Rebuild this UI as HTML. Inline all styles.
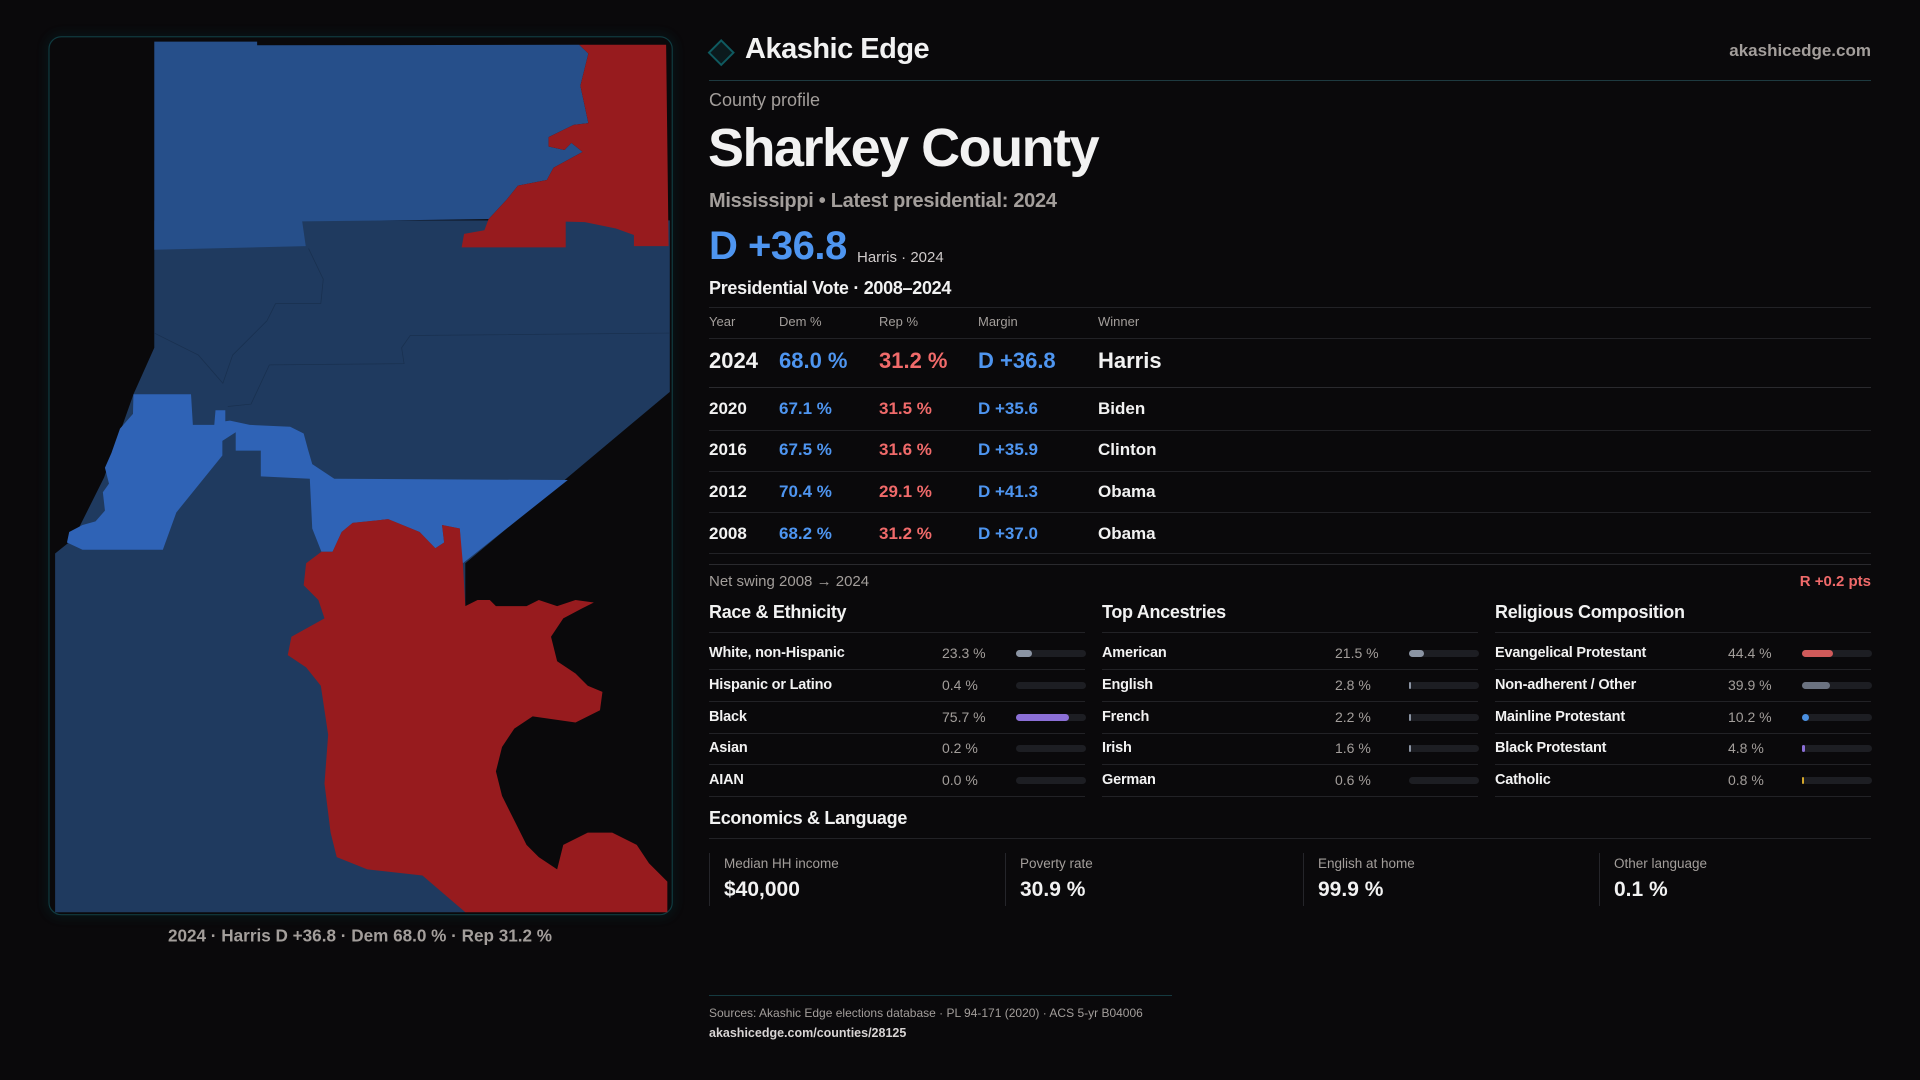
<!DOCTYPE html>
<html><head><meta charset="utf-8"><style>
*{margin:0;padding:0;box-sizing:border-box}
body{width:1920px;height:1080px;background:#0a090b;position:relative;overflow:hidden;font-family:"Liberation Sans",sans-serif;color:#f2f2f2}
.t{position:absolute;line-height:1;white-space:nowrap}
.g{color:#a39e9b}.b{color:#4e95f0}.r{color:#f06a6a}
.hl{position:absolute;height:1px;background:#222226}
.bar{position:absolute;height:7px;border-radius:4px;background:#1d1e23;width:70px}
.bar i{position:absolute;left:0;top:0;height:7px;border-radius:4px}
.card{position:absolute;top:853px;height:53px;border-left:1px solid #25252a}
</style></head><body>
<svg style="position:absolute;left:0;top:0" width="1920" height="1080" viewBox="0 0 1568 882">
<defs><filter id="gl" x="-10%" y="-10%" width="120%" height="120%"><feGaussianBlur stdDeviation="4"/></filter></defs>
<rect x="40" y="30" width="509" height="717" rx="10" fill="none" stroke="#0f3b40" stroke-width="4" opacity="0.35" filter="url(#gl)"/>
<rect x="40" y="30" width="509" height="717" rx="10" fill="#0a090b" stroke="#103a3f" stroke-width="1"/>
<polygon fill="#1f3a5f" points="126,180 547,180 547,320 380,460 380,745 45,745 45,452 60,440 85,390 109,322 126,284"/>
<polygon fill="#264f8a" points="126,34 210,34 210,37 473,36.5 480.5,43.7 474,70 480.5,100.6 468.5,102 448,112 448,119.6 461,122.5 466.6,116.7 475.8,124 452,137 446.6,147 423,151.6 413.8,163 399,179 246.8,180.8 249.7,201 126,204"/>
<polygon fill="#971b1e" points="473,36.5 480.5,43.7 474,70 480.5,100.6 468.5,102 448,112 448,119.6 461,122.5 466.6,116.7 475.8,124 452,137 446.6,147 423,151.6 413.8,163 399,179 395.6,188 379,191 377,202 462,202 462,181 477.6,181.4 503,186.6 517.7,191.9 517.7,201 546,201 544,36.5"/>
<polygon fill="#2f63b6" points="109,322 156,322 157.5,347 175,347 176,335 184,335 184,344 187.8,343.5 204,347 237,348.5 248,354 251.5,367 255,379 273,391 463.7,392 378,460 377,457 375.5,431.6 361,428.7 362.7,443 355.5,447.7 342.7,434.5 317,424 288,427 279,434.5 271.6,450.6 262.5,450.6 255,431.6 253,391 213,389 213,368 192.5,368 192.5,353 181.6,360 181.6,372 144,418.5 133,449 67.4,449 54.7,443 56.5,434.5 67.4,428.7 78,425.8 85.7,417 84,402 89,395 85.7,382 91,370 98,350 108.6,338"/>
<polygon fill="#971b1e" points="262.5,450.6 271.6,450.6 279,434.5 288,427 317,424 342.7,434.5 355.5,447.7 362.7,443 361,428.7 375.5,431.6 378,460 380,495 390,490 400,490 405,495 430,495 440,490 455,495 470,490 485,492 475,497 460,505 450,520 455,540 470,550 480,560 492,565 490,580 470,590 435,585 420,595 410,610 405,630 410,650 420,670 430,690 440,700 455,710 460,690 480,680 500,680 520,690 530,705 545,720 545,745 380,745 345,715 300,710 275,700 270,680 265,640 268,600 262,560 250,545 235,535 238,520 265,505 260,490 248,478 250,460"/>
<g fill="none" stroke="#19304f" stroke-width="0.6">
<path d="M126,272 L162,290 L182,313 L190,290 L198,282 L218,262 L225,248 L262,248 L264,228 L252,203"/>
<path d="M220,298 L330,297 L328,284 L335,274 L547,272"/>
<path d="M220,298 L205,330 L186,332"/>
</g>
<text x="294" y="769" fill="#a39e9b" font-family="Liberation Sans" font-size="14" font-weight="bold" text-anchor="middle">2024 · Harris D +36.8 · Dem 68.0 % · Rep 31.2 %</text>
<polygon points="589,33 599,43 589,53 579,43" fill="#0b1a1d" stroke="#0f5a60" stroke-width="1.6"/>
</svg>

<div class="t" style="left:745px;top:35px;font-size:29px;font-weight:bold;letter-spacing:-0.5px">Akashic Edge</div>
<div class="t g" style="right:49px;top:42px;font-size:17px;font-weight:bold">akashicedge.com</div>
<div class="hl" style="left:709px;width:1162px;top:80px;background:#1e3a40"></div>
<div class="t g" style="left:709px;top:91px;font-size:18px">County profile</div>
<div class="t" style="left:708px;top:121px;font-size:54px;font-weight:bold;letter-spacing:-1.5px">Sharkey County</div>
<div class="t g" style="left:709px;top:191px;font-size:20px;font-weight:bold;letter-spacing:-0.3px">Mississippi • Latest presidential: 2024</div>
<div class="t b" style="left:709px;top:226px;font-size:40px;font-weight:bold;letter-spacing:-0.5px">D +36.8</div>
<div class="t" style="left:857px;top:250px;font-size:15px;color:#cfcaca">Harris · 2024</div>
<div class="t" style="left:709px;top:279px;font-size:18px;font-weight:bold;letter-spacing:-0.3px">Presidential Vote · 2008–2024</div>
<div class="hl" style="left:709px;width:1162px;top:307px"></div>
<div class="t g" style="left:709px;top:315px;font-size:13px">Year</div>
<div class="t g" style="left:779px;top:315px;font-size:13px">Dem %</div>
<div class="t g" style="left:879px;top:315px;font-size:13px">Rep %</div>
<div class="t g" style="left:978px;top:315px;font-size:13px">Margin</div>
<div class="t g" style="left:1098px;top:315px;font-size:13px">Winner</div>
<div class="hl" style="left:709px;width:1162px;top:338px"></div>
<div class="t" style="left:709px;top:350px;font-size:22px;font-weight:bold">2024</div>
<div class="t b" style="left:779px;top:350px;font-size:22px;font-weight:bold">68.0 %</div>
<div class="t r" style="left:879px;top:350px;font-size:22px;font-weight:bold">31.2 %</div>
<div class="t b" style="left:978px;top:350px;font-size:22px;font-weight:bold">D +36.8</div>
<div class="t" style="left:1098px;top:350px;font-size:22px;font-weight:bold">Harris</div>
<div class="hl" style="left:709px;width:1162px;top:387px;background:#2a2a2e"></div>
<div class="t" style="left:709px;top:400px;font-size:17px;font-weight:bold">2020</div><div class="t b" style="left:779px;top:400px;font-size:17px;font-weight:bold">67.1 %</div><div class="t r" style="left:879px;top:400px;font-size:17px;font-weight:bold">31.5 %</div><div class="t b" style="left:978px;top:400px;font-size:17px;font-weight:bold">D +35.6</div><div class="t" style="left:1098px;top:400px;font-size:17px;font-weight:bold">Biden</div>
<div class="hl" style="left:709px;width:1162px;top:430px"></div>
<div class="t" style="left:709px;top:441px;font-size:17px;font-weight:bold">2016</div><div class="t b" style="left:779px;top:441px;font-size:17px;font-weight:bold">67.5 %</div><div class="t r" style="left:879px;top:441px;font-size:17px;font-weight:bold">31.6 %</div><div class="t b" style="left:978px;top:441px;font-size:17px;font-weight:bold">D +35.9</div><div class="t" style="left:1098px;top:441px;font-size:17px;font-weight:bold">Clinton</div>
<div class="hl" style="left:709px;width:1162px;top:471px"></div>
<div class="t" style="left:709px;top:483px;font-size:17px;font-weight:bold">2012</div><div class="t b" style="left:779px;top:483px;font-size:17px;font-weight:bold">70.4 %</div><div class="t r" style="left:879px;top:483px;font-size:17px;font-weight:bold">29.1 %</div><div class="t b" style="left:978px;top:483px;font-size:17px;font-weight:bold">D +41.3</div><div class="t" style="left:1098px;top:483px;font-size:17px;font-weight:bold">Obama</div>
<div class="hl" style="left:709px;width:1162px;top:512px"></div>
<div class="t" style="left:709px;top:525px;font-size:17px;font-weight:bold">2008</div><div class="t b" style="left:779px;top:525px;font-size:17px;font-weight:bold">68.2 %</div><div class="t r" style="left:879px;top:525px;font-size:17px;font-weight:bold">31.2 %</div><div class="t b" style="left:978px;top:525px;font-size:17px;font-weight:bold">D +37.0</div><div class="t" style="left:1098px;top:525px;font-size:17px;font-weight:bold">Obama</div>
<div class="hl" style="left:709px;width:1162px;top:553px"></div>
<div class="hl" style="left:709px;width:1162px;top:564px;background:#2a2a2e"></div>
<div class="t g" style="left:709px;top:574px;font-size:15px">Net swing 2008 → 2024</div>
<div class="t r" style="right:49px;top:574px;font-size:15px;font-weight:bold">R +0.2 pts</div>

<div class="t" style="left:709px;top:603px;font-size:18px;font-weight:bold;letter-spacing:-0.3px">Race &amp; Ethnicity</div>
<div class="t" style="left:1102px;top:603px;font-size:18px;font-weight:bold;letter-spacing:-0.3px">Top Ancestries</div>
<div class="t" style="left:1495px;top:603px;font-size:18px;font-weight:bold;letter-spacing:-0.3px">Religious Composition</div>

<div id="cols"></div>
<script>
var cols=[[709,[["White, non-Hispanic","23.3 %",23.3,"#8b94a3"],["Hispanic or Latino","0.4 %",0,"#8b94a3"],["Black","75.7 %",75.7,"#8b6fd6"],["Asian","0.2 %",0,"#8b94a3"],["AIAN","0.0 %",0,"#8b94a3"]]],
[1102,[["American","21.5 %",21.5,"#8b94a3"],["English","2.8 %",2.8,"#8b94a3"],["French","2.2 %",2.2,"#8b94a3"],["Irish","1.6 %",1.6,"#8b94a3"],["German","0.6 %",0,"#8b94a3"]]],
[1495,[["Evangelical Protestant","44.4 %",44.4,"#d05a5a"],["Non-adherent / Other","39.9 %",39.9,"#6b7280"],["Mainline Protestant","10.2 %",10.2,"#4a8fe0"],["Black Protestant","4.8 %",4.8,"#8b6fd6"],["Catholic","0.8 %",0.8,"#d4a72c"]]]];
var h="";
cols.forEach(function(c){var x=c[0];h+='<div class="hl" style="left:'+x+'px;width:376px;top:632px"></div>';
c[1].forEach(function(r,i){var y=653+i*31.8;
h+='<div class="t" style="left:'+x+'px;top:'+(y-7)+'px;font-size:14.5px;font-weight:bold;letter-spacing:-0.2px">'+r[0]+'</div>';
h+='<div class="t g" style="left:'+(x+233)+'px;top:'+(y-7)+'px;font-size:14px">'+r[1]+'</div>';
var w=r[2]>0?Math.max(2,r[2]/100*70):0;
h+='<div class="bar" style="left:'+(x+307)+'px;top:'+(y-3)+'px">'+(w?'<i style="width:'+w+'px;background:'+r[3]+'"></i>':'')+'</div>';
h+='<div class="hl" style="left:'+x+'px;width:376px;top:'+(y+16)+'px"></div>';});});
document.getElementById("cols").innerHTML=h;
</script>

<div class="t" style="left:709px;top:809px;font-size:18px;font-weight:bold;letter-spacing:-0.3px">Economics &amp; Language</div>
<div class="hl" style="left:709px;width:1162px;top:838px"></div>
<div class="card" style="left:709px"><div class="t g" style="left:14px;top:4px;font-size:13.5px">Median HH income</div><div class="t" style="left:14px;top:26px;font-size:21px;font-weight:bold">$40,000</div></div>
<div class="card" style="left:1005px"><div class="t g" style="left:14px;top:4px;font-size:13.5px">Poverty rate</div><div class="t" style="left:14px;top:26px;font-size:21px;font-weight:bold">30.9 %</div></div>
<div class="card" style="left:1303px"><div class="t g" style="left:14px;top:4px;font-size:13.5px">English at home</div><div class="t" style="left:14px;top:26px;font-size:21px;font-weight:bold">99.9 %</div></div>
<div class="card" style="left:1599px"><div class="t g" style="left:14px;top:4px;font-size:13.5px">Other language</div><div class="t" style="left:14px;top:26px;font-size:21px;font-weight:bold">0.1 %</div></div>

<div class="hl" style="left:709px;width:463px;top:995px;background:#153a40"></div>
<div class="t g" style="left:709px;top:1007px;font-size:12px">Sources: Akashic Edge elections database · PL 94-171 (2020) · ACS 5-yr B04006</div>
<div class="t" style="left:709px;top:1027px;font-size:12.5px;color:#d8d4d4;font-weight:bold">akashicedge.com/counties/28125</div>
</body></html>
